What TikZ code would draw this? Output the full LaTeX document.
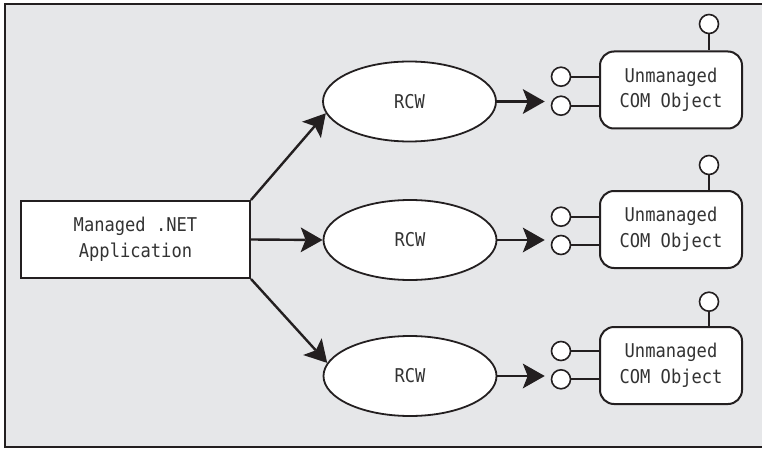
\documentclass[tikz,border=0pt]{standalone}
\usepackage{fontspec}
\usetikzlibrary{arrows.meta,shapes.geometric}
\newfontfamily\lblfont[FakeStretch=0.9]{DejaVu Sans Mono}
\definecolor{bggray}{HTML}{E6E7E9}
\definecolor{ink}{HTML}{231F20}
\definecolor{txt}{HTML}{333333}
\begin{document}
\begin{tikzpicture}[x=1pt,y=-1pt,
  lbl/.style={font=\lblfont\fontsize{19}{25.5}\selectfont, text=txt, align=center},
  appbox/.style={draw=ink, line width=2pt, fill=white, rectangle, minimum width=229pt, minimum height=77pt, inner sep=0pt, lbl},
  rcw/.style={draw=ink, line width=1.8pt, fill=white, ellipse, minimum width=173pt, minimum height=80pt, inner sep=0pt, lbl},
  combox/.style={draw=ink, line width=2pt, fill=white, rectangle, rounded corners=14pt, minimum width=142pt, minimum height=77pt, inner sep=0pt, lbl},
  port/.style={draw=ink, line width=1.6pt, fill=white, circle, minimum size=19pt, inner sep=0pt},
  stub/.style={draw=ink, line width=2pt},
  headtip/.tip={Stealth[length=22pt 0 0,width=25pt 0 0,inset=5pt,line width=0pt]},
  conn/.style={draw=ink, line width=2.4pt, -headtip}
]
\useasboundingbox (0,0) rectangle (762,449);
% frame
\fill[bggray] (5,4) rectangle (763,447);
\draw[ink, line width=2pt] (763,4) -- (5,4) -- (5,447) -- (763,447);

% managed application
\node[appbox] (app) at (135.5,239.5) {Managed .NET\\Application};

% RCWs
\node[rcw] (rcw1) at (409.5,101.5) {RCW};
\node[rcw] (rcw2) at (410,240) {RCW};
\node[rcw] (rcw3) at (410,376) {RCW};

% COM objects
\node[combox] (com1) at (671,90) {Unmanaged\\COM Object};
\node[combox] (com2) at (671,229.5) {Unmanaged\\COM Object};
\node[combox] (com3) at (671,365.5) {Unmanaged\\COM Object};

% ports
\node[port] (pa1) at (561,76.7) {};
\node[port] (pb1) at (561,105.7) {};
\node[port] (pt1) at (709,24) {};
\node[port] (pa2) at (561,216.7) {};
\node[port] (pb2) at (561,245) {};
\node[port] (pt2) at (709,165) {};
\node[port] (pa3) at (561,351) {};
\node[port] (pb3) at (561,379.3) {};
\node[port] (pt3) at (709,301.7) {};

\foreach \i in {1,2,3}{
  \draw[stub] (pa\i.east) -- (pa\i.east -| com\i.west);
  \draw[stub] (pb\i.east) -- (pb\i.east -| com\i.west);
  \draw[stub] (pt\i.south) -- (pt\i.south |- com\i.north);
}

% connectors
\draw[conn] (app.north east) -- (rcw1.188);
\draw[conn] (app.east) -- (rcw2.west);
\draw[conn] (app.south east) -- (rcw3.171);
\draw[conn, shorten >=6pt] (rcw1.east) -- (rcw1.east -| pb1.west);
\draw[conn, shorten >=6pt] (rcw2.east) -- (rcw2.east -| pb2.west);
\draw[conn, shorten >=6pt] (rcw3.east) -- (rcw3.east -| pb3.west);
\end{tikzpicture}
\end{document}
